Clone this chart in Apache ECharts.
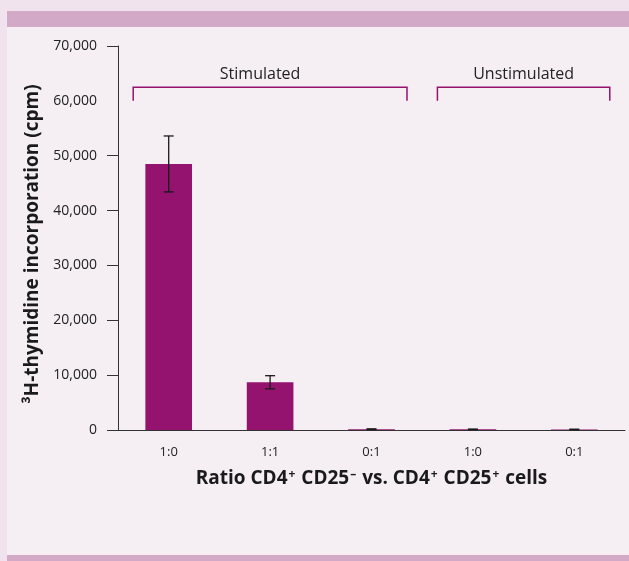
<!DOCTYPE html>
<html>
<head>
<meta charset="utf-8">
<script src="https://cdn.jsdelivr.net/npm/echarts@6/dist/echarts.min.js"></script>
<style>
  html, body { margin: 0; padding: 0; background: #f0e3ee; }
  #wrap { position: relative; width: 629px; height: 561px; overflow: hidden; }
  #panel { position: absolute; left: 7px; top: 11px; right: 0; bottom: 0; background: #f5eef3; }
  #bandTop { position: absolute; left: 7px; top: 11px; right: 0; height: 16px; background: #d3a9c8; }
  #bandBottom { position: absolute; left: 7px; top: 555px; right: 0; bottom: 0; background: #d3a9c8; }
  #chart { position: absolute; left: 0; top: 0; width: 629px; height: 561px; }
</style>
</head>
<body>
<div id="wrap">
  <div id="panel"></div>
  <div id="bandTop"></div>
  <div id="bandBottom"></div>
  <div id="chart"></div>
</div>
<script>
  // ratios CD4+CD25- : CD4+CD25+
  const categories = ['1:0', '1:1', '0:1', '1:0', '0:1'];
  const cpm = [48500, 8700, 150, 120, 100];
  const errLow = [43400, 7500, 90, 70, 50];
  const errHigh = [53600, 9900, 210, 170, 150];

  const groups = ['Stimulated', 'Unstimulated'];
  const groupFirst = [0, 3];
  const groupLast = [2, 4];
  const bracketBase = 60000;
  const bracketTop = 62500;

  const yMin = 0;
  const yMax = 70000;
  const yStep = 10000;
  // the original has no tick mark at 60,000
  const yTickValues = [0, 10000, 20000, 30000, 40000, 50000, 70000];

  const purple = '#93136f';
  const font = '"Open Sans", sans-serif';

  let chartDom = document.getElementById('chart');
  let myChart = echarts.init(chartDom, null, { renderer: 'canvas' });

  let option = {
    backgroundColor: 'transparent',
    animation: false,
    grid: { left: 118, right: 4, top: 46, bottom: 131 },
    xAxis: {
      type: 'category',
      data: categories,
      name: 'Ratio CD4{sup|+} CD25{sup|\u2013} vs. CD4{sup|+} CD25{sup|+} cells',
      nameLocation: 'middle',
      nameGap: 39,
      nameTextStyle: {
        fontFamily: font, fontSize: 19, fontWeight: 'bold', color: '#1a1a1a',
        rich: {
          sup: { fontFamily: font, fontSize: 12, fontWeight: 'bold', color: '#1a1a1a', verticalAlign: 'top', padding: [0, 1, 0, 1] }
        }
      },
      axisLine: { lineStyle: { color: '#333', width: 1 } },
      axisTick: { length: 8, lineStyle: { color: '#333' } },
      axisLabel: { margin: 16, fontFamily: font, fontSize: 13, color: '#222' }
    },
    yAxis: {
      type: 'value',
      min: yMin,
      max: yMax,
      interval: yStep,
      name: '\u00B3H-thymidine incorporation (cpm)',
      nameLocation: 'middle',
      nameGap: 74,
      nameTextStyle: { fontFamily: font, fontSize: 19, fontWeight: 'bold', color: '#1a1a1a', padding: [0, 12, 0, 0] },
      axisLine: { show: true, lineStyle: { color: '#333', width: 1 } },
      axisTick: { show: true, length: 11, customValues: yTickValues, lineStyle: { color: '#333' } },
      splitLine: { show: false },
      axisLabel: {
        margin: 21,
        fontFamily: font,
        fontSize: 14,
        color: '#222',
        formatter: v => v.toLocaleString('en-US')
      }
    },
    series: [
      {
        type: 'bar',
        data: cpm,
        barWidth: '46%',
        itemStyle: { color: purple }
      },
      {
        type: 'custom',
        data: categories.map((c, i) => [i, errLow[i], errHigh[i]]),
        encode: { x: 0, y: [1, 2] },
        z: 5,
        renderItem: (params, api) => {
          const lo = api.coord([api.value(0), api.value(1)]);
          const hi = api.coord([api.value(0), api.value(2)]);
          const half = 5;
          const st = { stroke: '#1a1a1a', lineWidth: 1.3 };
          return {
            type: 'group',
            children: [
              { type: 'line', shape: { x1: lo[0], y1: lo[1], x2: hi[0], y2: hi[1] }, style: st },
              { type: 'line', shape: { x1: hi[0] - half, y1: hi[1], x2: hi[0] + half, y2: hi[1] }, style: st },
              { type: 'line', shape: { x1: lo[0] - half, y1: lo[1], x2: lo[0] + half, y2: lo[1] }, style: st }
            ]
          };
        }
      },
      {
        type: 'custom',
        data: groups.map((g, i) => [groupFirst[i], groupLast[i], bracketBase, bracketTop]),
        encode: { x: [0, 1], y: [2, 3] },
        clip: false,
        renderItem: (params, api) => {
          const bw = api.size([1, 0])[0];
          const inset = bw * 0.15;
          const pl = api.coord([api.value(0), api.value(2)]);
          const pr = api.coord([api.value(1), api.value(2)]);
          const top = api.coord([api.value(0), api.value(3)])[1];
          const left = pl[0] - bw / 2 + inset;
          const right = pr[0] + bw / 2 - inset;
          return {
            type: 'group',
            children: [
              {
                type: 'polyline',
                shape: { points: [[left, pl[1]], [left, top], [right, top], [right, pl[1]]] },
                style: { stroke: purple, lineWidth: 1.5, fill: null }
              },
              {
                type: 'text',
                style: {
                  text: groups[params.dataIndex],
                  x: (left + right) / 2 - (params.dataIndex === 0 ? 10 : 0),
                  y: top - 13,
                  align: 'center',
                  verticalAlign: 'middle',
                  fontFamily: font,
                  fontSize: 16,
                  fill: '#222'
                }
              }
            ]
          };
        }
      }
    ]
  };

  myChart.setOption(option);
  window.onresize = () => {
    myChart.resize();
  };
</script>
</body>
</html>
